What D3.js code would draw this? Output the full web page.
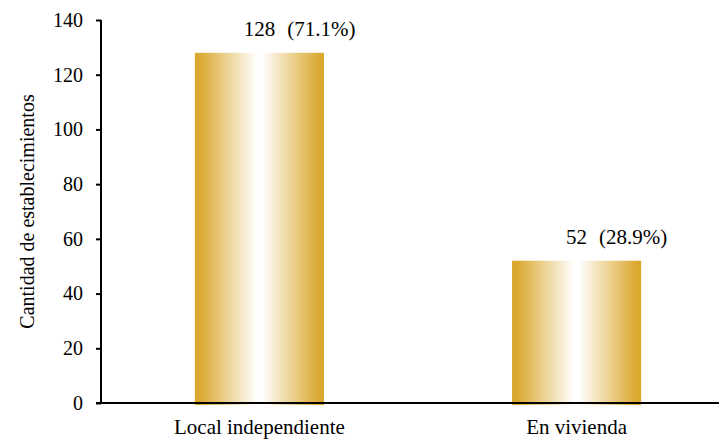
<!DOCTYPE html>
<html>
<head>
<meta charset="utf-8">
<script src="https://cdn.jsdelivr.net/npm/d3@7"></script>
<style>
  body { margin: 0; background: #fff; }
  svg text { fill: #000; }
</style>
</head>
<body>
<div class="chart"></div>
<script>
// Chart data
var categories = ["Local independiente", "En vivienda"];
var counts = [128, 52];
var percents = ["(71.1%)", "(28.9%)"];
var yTicks = [0, 20, 40, 60, 80, 100, 120, 140];

var width = 719, height = 440;
var margin = { top: 20, right: -16, bottom: 37, left: 101 };
var serif = "Liberation Serif";

var svg = d3.select(".chart").append("svg")
    .attr("width", width)
    .attr("height", height)
    .style("font-family", serif);

// Gradient for the bars (gold edges, white centre)
var grad = svg.append("defs").append("linearGradient")
    .attr("id", "barGrad")
    .attr("x1", "0%").attr("x2", "100%")
    .attr("y1", "0%").attr("y2", "0%");
grad.append("stop").attr("offset", "0%").attr("stop-color", "#DAA72A");
grad.append("stop").attr("offset", "5%").attr("stop-color", "#DCAB36");
grad.append("stop").attr("offset", "48%").attr("stop-color", "#FFFFFF");
grad.append("stop").attr("offset", "52%").attr("stop-color", "#FFFFFF");
grad.append("stop").attr("offset", "95%").attr("stop-color", "#DCAB36");
grad.append("stop").attr("offset", "100%").attr("stop-color", "#DAA72A");

var x = d3.scaleBand()
    .domain(categories)
    .range([margin.left, width - margin.right])
    .paddingInner(0.593)
    .paddingOuter(0.296);

var y = d3.scaleLinear()
    .domain([0, 140])
    .range([height - margin.bottom, margin.top]);

// Bars
svg.selectAll(".bar")
    .data(counts)
    .enter()
    .append("rect")
    .attr("class", "bar")
    .attr("x", function(d, i) { return x(categories[i]); })
    .attr("y", function(d) { return y(d); })
    .attr("width", x.bandwidth())
    .attr("height", function(d) { return y(0) - y(d) + 2; })
    .attr("fill", "url(#barGrad)");

// Y axis
var yAxis = d3.axisLeft(y)
    .tickValues(yTicks)
    .tickSize(5)
    .tickPadding(13);

var yAxisGroup = svg.append("g")
    .attr("class", "y-axis")
    .attr("transform", "translate(" + margin.left + ",0)")
    .call(yAxis)
    .attr("font-family", null)
    .attr("font-size", 20);
yAxisGroup.select(".domain").remove();
yAxisGroup.append("line")
    .attr("x1", 0).attr("x2", 0)
    .attr("y1", y(140)).attr("y2", y(0))
    .attr("stroke", "#000").attr("stroke-width", 2);
yAxisGroup.selectAll(".tick line").attr("stroke", "#000").attr("stroke-width", 2);

// X axis line
svg.append("line")
    .attr("x1", margin.left - 5).attr("x2", width)
    .attr("y1", y(0)).attr("y2", y(0))
    .attr("stroke", "#000").attr("stroke-width", 2);

// Category labels
svg.selectAll(".cat-label")
    .data(categories)
    .enter()
    .append("text")
    .attr("class", "cat-label")
    .attr("x", function(d) { return x(d) + x.bandwidth() / 2; })
    .attr("y", y(0) + 31)
    .attr("text-anchor", "middle")
    .attr("font-size", 21)
    .text(function(d) { return d; });

// Value labels: number centred on bar, percent right after it
counts.forEach(function(d, i) {
    var cx = x(categories[i]) + x.bandwidth() / 2;
    var num = svg.append("text")
        .attr("x", cx)
        .attr("y", y(d) - 17)
        .attr("text-anchor", "middle")
        .attr("font-size", 21)
        .text(d);
    var box = num.node().getBBox();
    svg.append("text")
        .attr("x", box.x + box.width + 12)
        .attr("y", y(d) - 17)
        .attr("font-size", 21)
        .text(percents[i]);
});

// Y axis title
svg.append("text")
    .attr("transform", "translate(34," + (margin.top + (y(0) - margin.top) / 2) + ") rotate(-90)")
    .attr("text-anchor", "middle")
    .attr("font-size", 20)
    .text("Cantidad de establecimientos");
</script>
</body>
</html>
